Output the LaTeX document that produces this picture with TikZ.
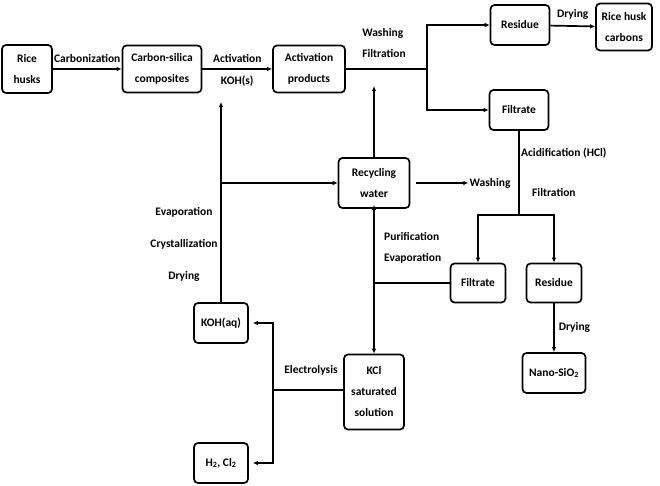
\documentclass[tikz,border=0pt]{standalone}
\usepackage{fontspec}
\setmainfont{Carlito}
\usetikzlibrary{arrows.meta}

\begin{document}
\begin{tikzpicture}[x=1pt,y=-1pt,
    box/.style={draw, line width=1.7pt, rounded corners=4pt, align=center,
      font=\bfseries\fontsize{11.5}{21}\selectfont, inner sep=1pt},
    lbl/.style={font=\bfseries\fontsize{11.5}{21}\selectfont, inner sep=1pt},
    flow/.style={line width=1.7pt, -{Latex[length=5pt,width=4.5pt]}},
    link/.style={line width=1.7pt}]
    \useasboundingbox (0,0) rectangle (660,486);
    % boxes
    \node[box, minimum width=50pt, minimum height=48pt] (husks) at (27,69) {Rice\\husks};
    \node[box, minimum width=79pt, minimum height=47pt] (cs) at (162,69) {Carbon-silica\\composites};
    \node[box, minimum width=72pt, minimum height=47pt] (act) at (309,69) {Activation\\products};
    \node[box, minimum width=59pt, minimum height=40pt] (res1) at (520,25) {Residue};
    \node[box, minimum width=56pt, minimum height=47pt] (rhc) at (624,27) {Rice husk\\carbons};
    \node[box, minimum width=59pt, minimum height=40pt] (fil1) at (519,110) {Filtrate};
    \node[box, minimum width=71pt, minimum height=50pt] (rw) at (374,183) {Recycling\\water};
    \node[box, minimum width=55pt, minimum height=39pt] (fil2) at (478,283) {Filtrate};
    \node[box, minimum width=55pt, minimum height=39pt] (res2) at (554,283) {Residue};
    \node[box, minimum width=63pt, minimum height=40pt] (nano) at (554,373) {Nano-SiO\textsubscript{2}};
    \node[box, minimum width=54pt, minimum height=40pt] (kohaq) at (221,323) {KOH(aq)};
    \node[box, minimum width=60pt, minimum height=75pt] (kcl) at (374,392) {KCl\\saturated\\solution};
    \node[box, minimum width=54pt, minimum height=40pt] (gas) at (221,463) {H\textsubscript{2}, Cl\textsubscript{2}};
    % free labels
    \node[lbl, align=left] (wf) at (384,43) {Washing\\Filtration};
    \node[lbl] (wash) at (490,183) {Washing};
    \node[lbl, anchor=west] (acid) at (520,153) {Acidification (HCl)};
    \node[lbl, anchor=west] (filt) at (531,192) {Filtration};
    \node[lbl, align=center, font=\bfseries\fontsize{11.5}{32}\selectfont] (ecd) at (184,244) {Evaporation\\Crystallization\\Drying};
    \node[lbl, align=left, anchor=west] (pe) at (383,248) {Purification\\Evaporation};
    \node[lbl] (elec) at (311,370) {Electrolysis};
    % junctions
    \coordinate (split1) at (427,69);
    \coordinate (split2) at (fil1.south |- 0,215);
    \coordinate (top) at (rw.north |- 0,86);
    \coordinate (kohs) at (kohaq.north |- 0,102);
    \coordinate (branch) at (kohaq.north |- rw);
    \coordinate (join) at (fil2.west -| rw.south);
    \coordinate (split3) at (273,390);
    % connectors
    \draw[flow] (husks) -- (cs) node[lbl, midway, above=5pt] (carb) {Carbonization};
    \draw[flow] (cs) -- (act) node[lbl, midway, above=5pt] (actv) {Activation}
      node[lbl, midway, below=5pt] (koh) {KOH(s)};
    \draw[link] (act) -- (split1);
    \draw[flow] (split1) |- (res1.west);
    \draw[flow] (split1) |- (fil1.west);
    \draw[flow] (res1) -- (rhc) node[lbl, midway, above=5pt] (dry1) {Drying};
    \draw[flow] (rw.north) -- (top);
    \draw[flow] (kohaq.north) -- (kohs);
    \draw[flow] (branch) -- (rw.west);
    \draw[flow] ([xshift=6pt]rw.east) -- (wash.west);
    \draw[link] (fil1.south) -- (split2);
    \draw[flow] (split2) -| (fil2.north);
    \draw[flow] (split2) -| (res2.north);
    \draw[link] (fil2.west) -- (join);
    \draw[line width=1.7pt, {Latex[length=5pt,width=4.5pt]}-{Latex[length=5pt,width=4.5pt]}]
      ([yshift=4pt]rw.south) -- (kcl.north);
    \draw[flow] (res2) -- (nano) node[lbl, midway, right=3pt] (dry2) {Drying};
    \draw[link] (kcl.west |- split3) -- (split3);
    \draw[flow] (split3) |- ([xshift=4pt]kohaq.east);
    \draw[flow] (split3) |- ([xshift=4pt]gas.east);
\end{tikzpicture}
\end{document}
